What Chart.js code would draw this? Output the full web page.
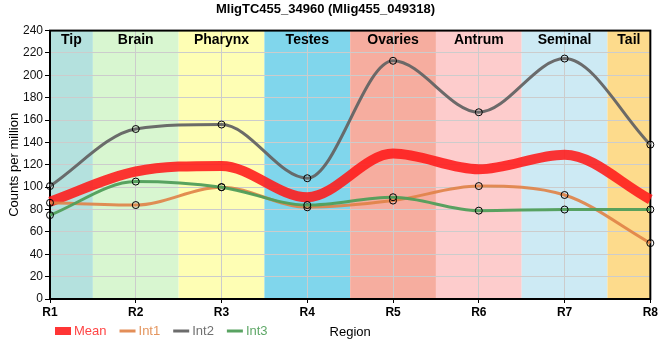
<!DOCTYPE html>
<html><head><meta charset="utf-8">
<script src="https://cdn.jsdelivr.net/npm/chart.js@4/dist/chart.umd.min.js"></script>
<style>html,body{margin:0;padding:0;background:#fff}#wrap{width:660px;height:360px}</style>
</head><body><div id="wrap"><canvas id="c" width="660" height="360"></canvas></div>
<script>
const chartTitle = 'MligTC455_34960 (Mlig455_049318)';
const categories = ['R1','R2','R3','R4','R5','R6','R7','R8'];
const meanValues = [87, 114, 119, 91, 130, 116, 129, 89];
const int1Values = [86, 84, 100, 82, 88, 101, 93, 50];
const int2Values = [101, 152, 156, 108, 213, 167, 215, 138];
const int3Values = [75, 105, 100, 84, 91, 79, 80, 80];
const seriesNames = ['Mean', 'Int1', 'Int2', 'Int3'];
const bandNames = ['Tip', 'Brain', 'Pharynx', 'Testes', 'Ovaries', 'Antrum', 'Seminal', 'Tail'];
const bandStarts = [0, 0.5, 1.5, 2.5, 3.5, 4.5, 5.5, 6.5];
const bandEnds = [0.5, 1.5, 2.5, 3.5, 4.5, 5.5, 6.5, 7];
const bandColors = ['#b4e1de', '#d8f6d0', '#fefeb4', '#80d6ec', '#f6ad9f', '#fdcccc', '#cdeaf4', '#fddb8c'];
const yTicks = [0, 20, 40, 60, 80, 100, 120, 140, 160, 180, 200, 220, 240];

const seriesColors = ['rgba(255,25,25,0.88)', 'rgba(224,130,70,0.9)', 'rgba(100,100,100,0.95)', 'rgba(80,158,90,0.95)'];
const legendTextColors = ['#ff4545', '#e4955e', '#707070', '#5fa868'];

const bandsPlugin = {
  id: 'bands',
  beforeDraw(chart) {
    const {ctx, chartArea, scales: {x}} = chart;
    ctx.save();
    for (let i = 0; i < bandNames.length; i++) {
      const x0 = x.getPixelForValue(bandStarts[i]);
      const x1 = x.getPixelForValue(bandEnds[i]);
      ctx.fillStyle = bandColors[i];
      ctx.fillRect(x0, chartArea.top, x1 - x0, chartArea.bottom - chartArea.top);
    }
    ctx.restore();
  },
  beforeDatasetsDraw(chart) {
    const {ctx, chartArea, scales: {x}} = chart;
    ctx.save();
    ctx.fillStyle = '#000';
    ctx.font = 'bold 14px "Liberation Sans", Arial, sans-serif';
    ctx.textAlign = 'center';
    ctx.textBaseline = 'middle';
    for (let i = 0; i < bandNames.length; i++) {
      const x0 = x.getPixelForValue(bandStarts[i]);
      const x1 = x.getPixelForValue(bandEnds[i]);
      ctx.fillText(bandNames[i], (x0 + x1) / 2, chartArea.top + 10);
    }
    ctx.strokeStyle = '#000';
    ctx.lineWidth = 2;
    ctx.strokeRect(chartArea.left, chartArea.top, chartArea.right - chartArea.left, chartArea.bottom - chartArea.top);
    ctx.restore();
  },
  afterDraw(chart) {
    const {ctx} = chart;
    ctx.save();
    ctx.font = '13px "Liberation Sans", Arial, sans-serif';
    ctx.textBaseline = 'middle';
    let xp = 55;
    const yp = 331;
    chart.data.datasets.forEach((ds, i) => {
      if (i === 0) {
        ctx.fillStyle = seriesColors[0];
        ctx.fillRect(xp, yp - 4, 16, 8);
      } else {
        ctx.strokeStyle = seriesColors[i];
        ctx.lineWidth = 3;
        ctx.beginPath();
        ctx.moveTo(xp, yp);
        ctx.lineTo(xp + 16, yp);
        ctx.stroke();
      }
      ctx.fillStyle = legendTextColors[i];
      ctx.textAlign = 'left';
      ctx.fillText(ds.label, xp + 19, yp);
      xp += 19 + ctx.measureText(ds.label).width + 13;
    });
    ctx.restore();
  }
};

const valueSets = [meanValues, int1Values, int2Values, int3Values];
const datasets = valueSets.map((vals, i) => ({
  label: seriesNames[i],
  data: vals,
  borderColor: seriesColors[i],
  backgroundColor: seriesColors[i],
  borderWidth: i === 0 ? 10 : 3,
  pointRadius: i === 0 ? 0 : 3.5,
  pointBorderColor: '#000',
  pointBorderWidth: 1,
  pointBackgroundColor: 'rgba(0,0,0,0)',
  cubicInterpolationMode: 'monotone',
  fill: false,
  order: i === 0 ? 4 : 3 - i
}));

new Chart(document.getElementById('c'), {
  type: 'line',
  data: { labels: categories, datasets },
  plugins: [bandsPlugin],
  options: {
    responsive: false,
    animation: false,
    events: [],
    layout: { padding: { left: 0, right: 9, top: 0, bottom: 0 } },
    plugins: {
      legend: { display: false },
      tooltip: { enabled: false },
      title: {
        display: true,
        text: chartTitle,
        color: '#000',
        font: { family: '"Liberation Sans", Arial, sans-serif', size: 13, weight: 'bold' },
        padding: { top: 2, bottom: 13 }
      }
    },
    scales: {
      x: {
        type: 'category',
        offset: false,
        grid: { color: '#cccccc', lineWidth: 1, tickColor: '#000', tickLength: 4, drawOnChartArea: true },
        border: { display: true, color: '#000', width: 2 },
        ticks: { color: '#000', font: { family: '"Liberation Sans", Arial, sans-serif', size: 12, weight: 'bold' }, padding: 2, maxRotation: 0, autoSkip: false },
        title: { display: true, text: 'Region', color: '#000', font: { family: '"Liberation Sans", Arial, sans-serif', size: 13 }, padding: { top: 4, bottom: 20 } },
        afterFit(s) { s.height = 61; }
      },
      y: {
        min: 0, max: 240,
        afterBuildTicks(s) { s.ticks = yTicks.map(v => ({ value: v })); },
        grid: { color: '#cccccc', lineWidth: 1, tickColor: '#000', tickLength: 5 },
        border: { display: true, color: '#000', width: 2 },
        ticks: { color: '#111', font: { family: '"Liberation Sans", Arial, sans-serif', size: 12 }, padding: 2 },
        title: { display: true, text: 'Counts per million', color: '#000', font: { family: '"Liberation Sans", Arial, sans-serif', size: 13 }, padding: { top: 7, bottom: 0 } },
        afterFit(s) { s.width = 50; }
      }
    }
  }
});
</script>
</body></html>
